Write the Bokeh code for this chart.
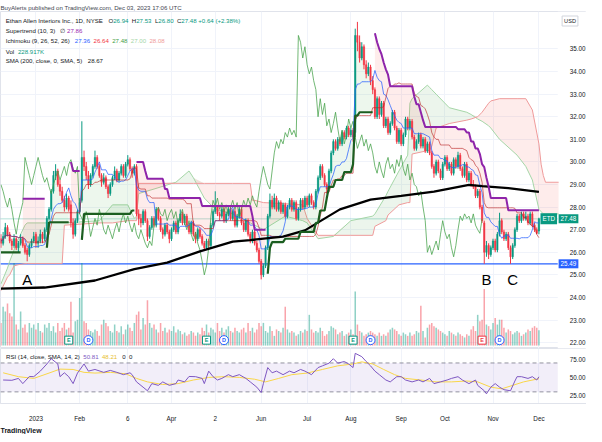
import numpy as np
import pandas as pd
from bokeh.plotting import figure
from bokeh.layouts import column
from bokeh.models import (Range1d, FixedTicker, NumeralTickFormatter, Span, Label,
                          Title, BoxAnnotation)
from bokeh.core.properties import value
from bokeh.embed import file_html
from bokeh.resources import INLINE

FONT = "Liberation Sans"
UP = "#089981"
DOWN = "#F23645"
DARK = "#131722"

# ---------------- data (daily bars, Dec 8 2022 .. Dec 1 2023) ----------------
opens = [
 26.6, 26.4, 26.7, 27.1, 26.8, 26.5, 26.3, 26.6, 26.2, 26.4,
 26.6, 26.3, 26.1, 25.9, 26.3, 26.5, 26.8, 26.4, 26.5, 26.8,
 26.6, 27.0, 27.5, 27.9, 28.7, 29.4, 29.6, 29.0, 28.7, 28.3,
 28.0, 28.4, 28.1, 27.3, 26.8, 27.4, 27.8, 28.3, 30.2, 29.8,
 29.4, 29.0, 29.4, 29.8, 30.2, 29.8, 29.4, 29.1, 29.3, 28.9,
 28.6, 29.0, 29.3, 29.6, 29.2, 29.5, 29.8, 29.4, 29.9, 30.1,
 29.7, 29.5, 29.8, 27.7, 27.5, 27.3, 27.8, 27.4, 26.7, 27.1,
 27.5, 27.2, 27.9, 27.5, 27.0, 26.8, 27.2, 26.9, 26.6, 27.0,
 27.3, 26.9, 27.4, 27.7, 27.3, 27.6, 27.2, 26.9, 27.3, 26.8,
 26.6, 27.0, 26.7, 26.4, 26.2, 26.5, 26.3, 27.2, 27.8, 28.0,
 27.7, 27.6, 27.9, 27.4, 27.7, 27.9, 27.5, 27.8, 27.2, 27.6,
 27.9, 27.3, 27.0, 27.4, 26.8, 26.5, 26.9, 26.4, 26.1, 25.6,
 25.0, 25.4, 26.2, 27.6, 28.3, 28.0, 28.4, 27.9, 28.2, 27.8,
 28.1, 27.6, 28.0, 28.3, 27.9, 28.2, 27.5, 27.9, 28.3, 28.0,
 28.4, 28.1, 28.5, 28.2, 28.0, 28.7, 29.3, 29.8, 29.4, 29.0,
 28.8, 29.6, 30.4, 30.9, 30.6, 31.0, 30.8, 31.3, 31.1, 31.5,
 31.2, 31.4, 31.3, 35.6, 35.3, 34.6, 35.1, 34.3, 33.9, 34.2,
 33.6, 33.2, 32.0, 32.8, 32.1, 32.6, 31.6, 31.9, 31.3, 31.7,
 32.2, 31.5, 30.9, 31.4, 30.8, 31.2, 31.9, 31.5, 31.8, 31.1,
 30.6, 30.9, 31.2, 30.7, 31.0, 30.5, 30.8, 30.4, 29.8, 29.5,
 30.0, 29.6, 29.3, 29.9, 30.2, 29.7, 29.9, 29.5, 30.1, 29.8,
 30.3, 29.7, 29.4, 29.9, 29.2, 29.5, 29.0, 28.9, 28.5, 28.7,
 28.0, 27.3, 26.0, 26.3, 25.9, 26.2, 26.5, 26.1, 26.8, 27.4,
 26.9, 26.6, 26.8, 26.2, 25.8, 26.3, 27.0, 27.6, 27.4, 27.7,
 27.5, 27.6, 27.3, 27.7, 27.2, 27.0, 26.94]
highs = [
 26.8, 26.9, 27.3, 27.2, 26.9, 26.6, 26.8, 26.7, 26.5, 26.8,
 26.7, 26.4, 26.2, 26.4, 26.6, 26.9, 26.9, 26.7, 27.0, 26.9,
 27.1, 27.6, 28.0, 28.8, 29.6, 29.9, 29.7, 29.2, 28.9, 28.5,
 28.6, 28.5, 28.3, 27.5, 27.5, 27.9, 28.4, 31.8, 30.5, 30.0,
 29.6, 29.5, 29.9, 30.5, 30.3, 29.9, 29.5, 29.5, 29.4, 29.0,
 29.1, 29.4, 29.8, 29.7, 29.6, 29.9, 29.9, 30.0, 30.3, 30.2,
 29.8, 29.9, 29.9, 27.9, 27.7, 27.9, 27.9, 27.5, 27.2, 27.6,
 27.6, 28.0, 28.0, 27.6, 27.1, 27.3, 27.3, 27.0, 27.1, 27.4,
 27.4, 27.5, 27.9, 27.8, 27.7, 27.7, 27.3, 27.4, 27.4, 26.9,
 27.1, 27.1, 26.8, 26.5, 26.6, 26.6, 27.3, 27.9, 28.7, 28.1,
 27.8, 28.0, 28.0, 27.8, 28.0, 28.0, 27.9, 27.9, 27.7, 28.0,
 28.0, 27.4, 27.5, 27.5, 26.9, 27.0, 27.0, 26.5, 26.2, 25.7,
 25.5, 26.3, 27.7, 28.6, 28.5, 28.6, 28.5, 28.3, 28.3, 28.2,
 28.2, 28.1, 28.4, 28.4, 28.3, 28.3, 28.0, 28.4, 28.4, 28.5,
 28.5, 28.6, 28.6, 28.3, 28.8, 29.4, 29.9, 29.9, 29.5, 29.1,
 29.7, 30.5, 31.0, 31.0, 31.1, 31.1, 31.4, 31.4, 31.6, 31.6,
 31.5, 31.5, 35.9, 36.2, 35.6, 35.3, 35.2, 34.5, 34.4, 34.3,
 33.8, 33.3, 32.9, 32.9, 32.7, 32.7, 32.0, 32.0, 31.8, 32.3,
 32.3, 31.6, 31.5, 31.5, 31.3, 32.0, 32.0, 31.9, 31.9, 31.2,
 31.0, 31.3, 31.3, 31.1, 31.1, 30.9, 30.9, 30.5, 29.9, 30.1,
 30.1, 29.7, 30.0, 30.3, 30.3, 30.0, 30.0, 30.2, 30.2, 30.45,
 30.4, 29.8, 30.0, 30.0, 29.6, 29.6, 29.2, 29.0, 28.8, 28.8,
 28.1, 27.4, 26.5, 26.4, 26.3, 26.6, 26.6, 26.9, 27.75, 27.5,
 27.0, 26.9, 26.9, 26.3, 26.4, 27.1, 27.7, 27.7, 27.8, 27.8,
 27.8, 27.7, 27.8, 27.8, 27.3, 27.1, 27.53]
lows = [
 26.2, 26.3, 26.6, 26.7, 26.4, 26.1, 26.2, 26.1, 26.0, 26.3,
 26.2, 25.9, 25.6, 25.8, 26.2, 26.4, 26.2, 26.2, 26.4, 26.4,
 26.5, 26.9, 27.4, 27.8, 28.6, 29.2, 28.9, 28.5, 28.2, 27.8,
 27.9, 27.8, 27.1, 26.6, 26.7, 27.3, 27.7, 28.2, 29.6, 29.2,
 28.8, 28.9, 29.3, 29.7, 29.7, 29.3, 28.9, 29.0, 28.8, 28.4,
 28.5, 28.9, 29.2, 29.1, 29.1, 29.4, 29.3, 29.3, 29.8, 29.6,
 29.3, 29.4, 27.6, 27.2, 27.1, 27.2, 27.3, 26.5, 26.6, 27.0,
 27.1, 27.1, 27.4, 26.9, 26.6, 26.7, 26.8, 26.4, 26.5, 26.9,
 26.8, 26.8, 27.3, 27.2, 27.2, 27.1, 26.8, 26.8, 26.7, 26.4,
 26.5, 26.6, 26.3, 26.1, 26.1, 26.1, 26.2, 27.1, 27.7, 27.6,
 27.4, 27.5, 27.3, 27.3, 27.6, 27.4, 27.4, 27.1, 27.1, 27.5,
 27.2, 26.9, 26.9, 26.7, 26.4, 26.4, 26.3, 26.0, 25.5, 24.8,
 24.9, 25.3, 26.1, 27.5, 27.9, 27.9, 27.8, 27.8, 27.7, 27.7,
 27.5, 27.5, 27.9, 27.8, 27.8, 27.4, 27.4, 27.8, 27.9, 27.9,
 28.0, 28.0, 28.1, 27.9, 27.9, 28.6, 29.2, 29.3, 28.9, 28.6,
 28.7, 29.5, 30.3, 30.5, 30.5, 30.7, 30.7, 31.0, 31.0, 31.1,
 31.1, 30.9, 31.1, 34.9, 34.4, 34.5, 34.1, 33.7, 33.8, 33.4,
 33.0, 31.9, 31.9, 31.9, 32.0, 31.5, 31.5, 31.2, 31.2, 31.6,
 31.4, 30.8, 30.8, 30.7, 30.7, 31.1, 31.4, 31.4, 31.0, 30.5,
 30.5, 30.8, 30.6, 30.6, 30.4, 30.4, 30.3, 29.7, 29.3, 29.4,
 29.5, 29.2, 29.2, 29.8, 29.6, 29.6, 29.4, 29.4, 29.7, 29.7,
 29.6, 29.3, 29.3, 29.1, 29.1, 28.9, 28.8, 28.4, 28.4, 27.9,
 27.3, 25.49, 25.8, 25.7, 25.8, 26.1, 26.0, 26.0, 26.7, 26.8,
 26.5, 26.5, 26.1, 25.49, 25.7, 26.2, 26.9, 27.3, 27.3, 27.4,
 27.4, 27.2, 27.2, 27.1, 26.9, 26.8, 26.80]
closes = [
 26.4, 26.7, 27.1, 26.8, 26.5, 26.3, 26.6, 26.2, 26.4, 26.6,
 26.3, 26.0, 25.9, 26.3, 26.5, 26.7, 26.4, 26.5, 26.8, 26.6,
 27.0, 27.5, 27.9, 28.7, 29.4, 29.6, 29.0, 28.7, 28.3, 28.0,
 28.4, 27.9, 27.3, 26.8, 27.4, 27.8, 28.2, 30.2, 29.8, 29.4,
 29.0, 29.4, 29.8, 30.2, 29.8, 29.4, 29.1, 29.3, 28.9, 28.6,
 29.0, 29.3, 29.6, 29.2, 29.5, 29.8, 29.4, 29.9, 30.1, 29.7,
 29.5, 29.8, 27.7, 27.5, 27.3, 27.8, 27.4, 26.7, 27.1, 27.5,
 27.2, 27.9, 27.5, 27.0, 26.8, 27.2, 26.9, 26.6, 27.0, 27.3,
 26.9, 27.4, 27.7, 27.3, 27.6, 27.2, 26.9, 27.3, 26.8, 26.6,
 27.0, 26.7, 26.4, 26.2, 26.5, 26.3, 27.2, 27.8, 28.0, 27.7,
 27.6, 27.9, 27.4, 27.7, 27.9, 27.5, 27.8, 27.2, 27.6, 27.9,
 27.3, 27.0, 27.4, 26.8, 26.5, 26.9, 26.4, 26.1, 25.6, 25.0,
 25.4, 26.2, 27.6, 28.3, 28.0, 28.4, 27.9, 28.2, 27.8, 28.1,
 27.6, 28.0, 28.3, 27.9, 28.2, 27.5, 27.9, 28.3, 28.0, 28.4,
 28.1, 28.5, 28.2, 28.0, 28.7, 29.3, 29.8, 29.4, 29.0, 28.8,
 29.6, 30.4, 30.9, 30.6, 31.0, 30.8, 31.3, 31.1, 31.5, 31.2,
 31.4, 31.1, 35.6, 35.3, 34.6, 35.1, 34.3, 33.9, 34.2, 33.6,
 33.2, 32.0, 32.8, 32.1, 32.6, 31.6, 31.9, 31.3, 31.7, 32.2,
 31.5, 30.9, 31.4, 30.8, 31.2, 31.9, 31.5, 31.8, 31.1, 30.6,
 30.9, 31.2, 30.7, 31.0, 30.5, 30.8, 30.4, 29.8, 29.5, 30.0,
 29.6, 29.3, 29.9, 30.2, 29.7, 29.9, 29.5, 30.1, 29.8, 30.3,
 29.7, 29.4, 29.9, 29.2, 29.5, 29.0, 28.9, 28.5, 28.7, 28.0,
 27.4, 26.0, 26.3, 25.9, 26.2, 26.5, 26.1, 26.8, 27.4, 26.9,
 26.6, 26.8, 26.2, 25.8, 26.3, 27.0, 27.6, 27.4, 27.7, 27.5,
 27.6, 27.3, 27.7, 27.2, 27.0, 26.84, 27.48]
volume_k = [
 341, 584, 511, 633, 487, 438, 1240, 316, 243, 511,
 268, 316, 195, 341, 268, 316, 243, 341, 219, 195,
 316, 268, 341, 219, 292, 195, 341, 219, 268, 341,
 243, 268, 657, 195, 365, 389, 715, 1240, 365, 341,
 243, 219, 195, 243, 219, 146, 316, 389, 341, 292,
 219, 195, 316, 219, 195, 292, 170, 243, 316, 268,
 219, 341, 462, 511, 243, 414, 316, 681, 341, 268,
 316, 243, 195, 341, 219, 268, 195, 243, 219, 292,
 195, 243, 219, 170, 195, 146, 170, 219, 195, 146,
 195, 170, 268, 219, 316, 195, 268, 243, 195, 341,
 219, 268, 195, 243, 292, 219, 195, 268, 219, 195,
 243, 268, 195, 341, 219, 268, 195, 243, 341, 292,
 341, 219, 195, 292, 219, 146, 243, 219, 195, 268,
 584, 243, 195, 219, 195, 146, 170, 219, 195, 243,
 219, 462, 243, 195, 219, 195, 268, 219, 146, 170,
 219, 292, 268, 243, 170, 195, 219, 146, 170, 195,
 243, 170, 813, 316, 219, 195, 146, 170, 195, 219,
 195, 170, 146, 195, 146, 170, 146, 195, 243, 268,
 243, 219, 170, 146, 195, 170, 146, 195, 146, 170,
 219, 195, 600, 219, 122, 268, 316, 341, 292, 268,
 243, 219, 195, 170, 146, 219, 195, 170, 146, 195,
 170, 146, 122, 170, 146, 243, 292, 219, 462, 365,
 389, 850, 316, 292, 243, 341, 414, 316, 389, 389,
 268, 195, 243, 219, 170, 195, 219, 195, 146, 170,
 195, 243, 219, 268, 292, 268, 229]

# Ichimoku leading spans (already displaced 26 bars)
cloud_idx = [0, 3, 4, 6, 8, 11, 12, 28, 29, 45, 51, 58, 61, 62, 63, 70, 80, 86, 88, 93,
             98, 106, 114, 115, 116, 120, 130, 138, 140, 145, 152, 160, 170, 171, 176, 177, 182, 186, 187, 188,
             195, 196, 197, 199, 205, 213, 215, 218, 220, 223, 224, 228, 236, 240, 243, 246, 247, 248, 249, 255]
span_a = [24.6, 25.3, 25.6, 26.1, 26.6, 27.2, 27.3, 27.3, 27.3, 27.4,
          28.1, 28.1, 27.5, 27.6, 28.6, 28.8, 29.1, 29.6, 29.3, 28.4,
          27.9, 27.7, 27.3, 27.25, 27.2, 27.0, 27.6, 27.4, 27.3, 26.6,
          26.7, 27.4, 27.6, 27.7, 28.5, 28.7, 29.6, 30.3, 32.6, 32.8,
          33.4, 33.3, 33.2, 33.0, 32.4, 32.2, 32.1, 31.9, 31.8, 31.6,
          31.5, 31.0, 30.3, 29.8, 29.2, 27.9, 27.8, 27.7, 27.7, 27.7]
span_b = [24.3, 24.9, 25.0, 25.4, 25.45, 25.5, 25.5, 25.5, 27.2, 27.3,
          27.3, 27.4, 27.4, 27.4, 29.05, 29.05, 29.05, 29.05, 29.05, 29.05,
          29.05, 29.05, 29.05, 28.3, 28.3, 28.2, 28.15, 28.1, 27.5, 26.75,
          26.75, 26.75, 26.75, 27.15, 27.4, 27.65, 28.1, 28.2, 28.2, 30.35,
          30.5, 30.5, 30.7, 31.5, 31.7, 31.85, 31.9, 32.0, 32.2, 32.6,
          32.7, 32.8, 32.8, 32.8, 32.3, 30.8, 29.9, 29.4, 29.1, 29.1]

# Supertrend (10, 3): runs of constant value; +1 = up trend, -1 = down trend
st_start = [0, 10, 21, 22, 32, 33, 37, 38, 60, 62, 66, 67, 75, 77, 92, 115, 116, 122, 123, 124,
            130, 137, 144, 146, 149, 150, 153, 157, 161, 162, 164, 171, 172, 173, 174, 175, 176, 177, 178, 189,
            190, 192, 193, 194, 209, 213, 215, 217, 219, 220, 221, 222, 223, 224, 232]
st_value = [26.0, 28.37, 26.2, 27.33, 30.0, 29.6, 26.55, 27.7, 27.85, 30.0,
            29.6, 29.25, 28.8, 28.4, 28.05, 27.6, 27.0, 25.05, 26.2, 26.45,
            26.6, 26.9, 27.3, 27.85, 28.4, 28.9, 29.2, 29.55, 29.9, 32.05,
            32.2, 35.7, 35.3, 35.0, 34.77, 34.4, 34.1, 33.86, 33.35, 32.9,
            32.55, 32.2, 31.85, 31.55, 31.45, 31.3, 30.9, 30.6, 30.35, 29.9,
            29.77, 29.3, 28.9, 28.4, 27.86]
st_dir = [1, -1, 1, 1, -1, -1, 1, 1, 1, -1,
          -1, -1, -1, -1, -1, -1, -1, 1, 1, 1,
          1, 1, 1, 1, 1, 1, 1, 1, 1, 1,
          1, -1, -1, -1, -1, -1, -1, -1, -1, -1,
          -1, -1, -1, -1, -1, -1, -1, -1, -1, -1,
          -1, -1, -1, -1, -1]

# SMA 200
sma_idx = [0, 20, 43, 61, 76, 91, 106, 114, 129, 139, 155, 169, 183, 198, 214, 220, 232, 246]
sma_val = [24.39, 24.44, 24.75, 25.25, 25.54, 26.04, 26.47, 26.54, 26.69, 26.97,
           27.9, 28.33, 28.5, 28.69, 28.98, 28.93, 28.84, 28.67]

# RSI (14) and its SMA (14)
rsi_idx = [1, 5, 8, 10, 13, 15, 18, 21, 23, 26, 27, 29, 31, 33, 35, 38, 40, 43, 47, 50,
           53, 56, 59, 60, 62, 65, 67, 69, 72, 74, 77, 80, 81, 84, 86, 89, 92, 93, 95, 97,
           99, 101, 104, 106, 109, 112, 114, 117, 119, 120, 122, 124, 126, 129, 132, 134, 137, 139, 142, 145,
           147, 150, 152, 154, 157, 159, 161, 162, 165, 167, 169, 171, 173, 176, 178, 181, 183, 185, 188, 191,
           193, 196, 198, 201, 204, 206, 209, 211, 214, 217, 218, 221, 222, 224, 226, 228, 230, 233, 235, 236,
           238, 241, 243, 245, 246]
rsi_val = [46.4, 46.0, 48.6, 41.4, 51.3, 51.0, 58.7, 68.6, 75.9, 68.6,
           51.0, 56.4, 51.0, 41.4, 56.0, 68.6, 58.7, 61.0, 57.0, 59.7,
           57.0, 53.8, 56.4, 53.8, 43.8, 36.5, 31.5, 41.4, 39.0, 43.8,
           39.0, 41.4, 46.4, 43.8, 51.3, 51.0, 48.6, 41.4, 58.7, 51.0,
           46.4, 48.6, 53.8, 51.0, 53.8, 48.6, 43.8, 36.5, 29.1, 41.4,
           63.6, 56.4, 58.7, 53.8, 58.7, 56.4, 61.0, 58.7, 53.8, 63.6,
           66.0, 69.7, 75.9, 69.7, 72.0, 68.6, 63.6, 83.3, 78.7, 72.0,
           66.0, 58.7, 53.8, 46.4, 43.8, 51.0, 51.0, 46.4, 43.8, 46.4,
           43.8, 48.6, 41.4, 43.8, 46.4, 48.6, 51.0, 46.4, 41.4, 46.4,
           39.0, 31.5, 27.3, 36.5, 41.4, 36.5, 33.0, 31.5, 45.0, 51.0,
           51.0, 48.6, 51.0, 46.4, 50.81]
rsi_ma_idx = [1, 8, 15, 22, 27, 33, 38, 43, 50, 57, 62, 67, 74, 81, 88, 95, 102, 109, 116, 121,
              127, 133, 140, 147, 154, 161, 165, 170, 175, 180, 185, 192, 199, 206, 213, 218, 224, 229, 234, 239, 246]
rsi_ma_val = [56.4, 51.0, 48.6, 56.0, 61.5, 61.0, 57.0, 56.0, 57.0, 55.0,
              48.6, 43.8, 40.2, 41.4, 46.4, 50.0, 51.0, 50.0, 47.5, 43.8,
              48.6, 53.8, 56.0, 61.0, 66.0, 68.6, 71.5, 68.6, 61.0, 53.8,
              48.6, 46.4, 43.8, 43.8, 45.0, 43.8, 36.5, 34.2, 39.0, 43.8, 48.21]

# Events (earnings / dividends) by bar index
earn_idx = [31, 94, 161, 220]
earn_up = [True, True, True, False]
div_idx = [40, 102, 169, 228]

# Annotations
level_price = 25.49
note_text = ["A", "B", "C"]
note_idx = [12, 222, 234]
note_price = [24.79, 24.79, 24.79]

tick_idx = [16, 36, 58, 78, 98, 119, 140, 160, 183, 203, 225, 246]
tick_labels = ["2023", "Feb", "6", "Apr", "2", "Jun", "Jul", "Aug", "Sep", "Oct", "Nov", "Dec"]
price_ticks = list(range(22, 36))
rsi_ticks = [25, 50, 75]

# ---------------- checks ----------------
N = len(closes)
for arr in (opens, highs, lows, volume_k):
    assert len(arr) == N, len(arr)
assert len(span_a) == len(cloud_idx) == len(span_b)
assert len(st_start) == len(st_value) == len(st_dir)
assert len(rsi_idx) == len(rsi_val)
assert len(rsi_ma_idx) == len(rsi_ma_val)

idx = np.arange(N)
o = np.array(opens); h = np.array(highs); l = np.array(lows); c = np.array(closes)
vol = np.array(volume_k)
is_up = c >= o
bar_col = np.where(is_up, UP, DOWN).tolist()

# indicators from the bars
hs, ls = pd.Series(h), pd.Series(l)
tenkan = ((hs.rolling(9, min_periods=1).max() + ls.rolling(9, min_periods=1).min()) / 2).values
kijun = ((hs.rolling(26, min_periods=1).max() + ls.rolling(26, min_periods=1).min()) / 2).values

lengths = np.diff(np.append(st_start, N))
st = np.repeat(st_value, lengths)
sd = np.repeat(st_dir, lengths)
body_mid = (o + c) / 2

# ---------------- layout constants ----------------
W = 586
X_LO, X_HI = -0.2, 267.75      # bar-index range covering plot + price scale
AXIS_X = 254.6                 # where the price scale starts
PRICE_FRAME_H = 337
RSI_FRAME_H = 55
FS = 6.1                       # legend font size in px

AW = {' ': 278, '!': 278, '%': 889, '(': 333, ')': 333, '+': 584, ',': 278, '-': 333, '.': 278,
      ':': 278, 'A': 667, 'B': 667, 'C': 722, 'D': 722, 'E': 667, 'F': 611, 'G': 778, 'H': 722,
      'I': 278, 'J': 500, 'K': 667, 'L': 556, 'M': 833, 'N': 722, 'O': 778, 'P': 667, 'Q': 778,
      'R': 722, 'S': 667, 'T': 611, 'U': 722, 'V': 667, 'W': 944, 'X': 667, 'Y': 667, 'Z': 611,
      'a': 556, 'b': 556, 'c': 500, 'd': 556, 'e': 556, 'f': 278, 'g': 556, 'h': 556, 'i': 222,
      'j': 222, 'k': 500, 'l': 222, 'm': 833, 'n': 556, 'o': 556, 'p': 556, 'q': 556, 'r': 333,
      's': 500, 't': 278, 'u': 556, 'v': 500, 'w': 722, 'x': 500, 'y': 500, 'z': 500}


def tw(s, size=FS):
    return sum(AW.get(ch, 556) for ch in s) / 1000.0 * size


def put(fig, x, y, text, color, size=FS, style="normal", x_units="screen", y_units="screen", **kw):
    fig.add_layout(Label(x=x, y=y, x_units=x_units, y_units=y_units, text=text,
                         text_color=color, text_font=FONT, text_font_size=f"{size}px",
                         text_font_style=style, text_baseline="middle", **kw))


def put_row(fig, x0, y, chunks):
    x = x0
    for txt, col in chunks:
        put(fig, x, y, txt, col)
        x += tw(txt)


def style_y_axis(axis, ticks):
    axis.ticker = FixedTicker(ticks=ticks)
    axis.formatter = NumeralTickFormatter(format="0.00")
    axis.fixed_location = AXIS_X
    axis.major_label_text_font = FONT
    axis.major_label_text_font_size = "6.3px"
    axis.major_label_text_color = DARK
    axis.major_tick_line_color = None
    axis.minor_tick_line_color = None
    axis.axis_line_color = None
    axis.major_label_standoff = 6


xr = Range1d(X_LO, X_HI)
price_lo, price_hi = 21.74, 36.66

# ---------------- price pane ----------------
p = figure(frame_width=W, frame_height=PRICE_FRAME_H, x_range=xr, y_range=Range1d(price_lo, price_hi),
           x_axis_location=None, y_axis_location="right", output_backend="svg",
           toolbar_location=None, min_border_left=0, min_border_right=0,
           min_border_top=0, min_border_bottom=0, outline_line_color="#E0E3EB",
           background_fill_color="white", border_fill_color="white")
p.title.text = "BuyAlerts published on TradingView.com, Dec 03, 2023 17:06 UTC"
p.title.text_font = FONT
p.title.text_font_size = "6.1px"
p.title.text_font_style = "normal"
p.title.text_color = "#434651"
p.title.standoff = 2

p.extra_y_ranges = {"vol": Range1d(-44, 5022)}

p.xgrid.ticker = FixedTicker(ticks=tick_idx)
p.ygrid.ticker = FixedTicker(ticks=price_ticks)
p.xgrid.grid_line_color = "#F0F3FA"
p.ygrid.grid_line_color = "#F0F3FA"
style_y_axis(p.yaxis[0], price_ticks)

# horizontal level + last price line (under the bars)
p.add_layout(Span(location=level_price, dimension="width", line_color="#2962FF", line_width=1.3,
                  level="underlay"))
p.add_layout(Span(location=closes[-1], dimension="width", line_color=UP, line_width=1,
                  line_dash="1 1", line_alpha=0.6, level="underlay"))
# blank price-scale strip
p.add_layout(BoxAnnotation(left=AXIS_X, fill_color="white", fill_alpha=1.0, line_color=None,
                           level="underlay"))

# volume
p.vbar(x=idx, top=vol, bottom=0, width=0.7, fill_color=bar_col, line_color=None,
       fill_alpha=0.45, y_range_name="vol")

# ichimoku cloud
ca = np.array(span_a); cb = np.array(span_b); cmax = np.maximum(ca, cb)
p.varea(x=cloud_idx, y1=cb, y2=cmax, fill_color="#43A047", fill_alpha=0.1)
p.varea(x=cloud_idx, y1=ca, y2=cmax, fill_color="#F44336", fill_alpha=0.1)
p.line(cloud_idx, ca, line_color="#A5D6A7", line_width=1)
p.line(cloud_idx, cb, line_color="#EF9A9A", line_width=1)

# supertrend fills
breaks = np.flatnonzero(np.diff(sd)) + 1
segments = np.split(idx, breaks)
for seg in segments:
    d = sd[seg[0]]
    p.varea(x=seg, y1=st[seg], y2=body_mid[seg],
            fill_color="#4CAF50" if d > 0 else "#F44336", fill_alpha=0.1)

# candles
p.segment(x0=idx, y0=h, x1=idx, y1=l, line_color=bar_col, line_width=1)
p.vbar(x=idx, width=0.62, top=o, bottom=c, fill_color=bar_col, line_color=bar_col, line_width=0.5)

# ichimoku lines
p.line(idx[26:] - 26, c[26:], line_color="#43A047", line_width=1, line_alpha=0.75)
p.line(idx, tenkan, line_color="#2962FF", line_width=1, line_alpha=0.75)
p.line(idx, kijun, line_color="#B71C1C", line_width=1, line_alpha=0.6)

# SMA 200
p.line(sma_idx, sma_val, line_color="black", line_width=2.3)

# supertrend lines
for seg in segments:
    d = sd[seg[0]]
    p.line(seg, st[seg], line_color="#1B5E20" if d > 0 else "#8E24AA",
           line_width=2.2 if d > 0 else 2.0)

# A / B / C notes
p.text(x=note_idx, y=note_price, text=note_text, text_font=value(FONT), text_font_size="15px",
       text_color="black", text_align="center", text_baseline="middle")

# earnings / dividend badges
badge_y = price_lo + 0.37
ecol = [UP if u else DOWN for u in earn_up]
p.scatter(x=earn_idx, y=[badge_y] * len(earn_idx), marker="square", size=8,
          fill_color="white", line_color=ecol, line_width=1)
p.text(x=earn_idx, y=[badge_y] * len(earn_idx), text=["E"] * len(earn_idx), text_color=ecol,
       text_font=value(FONT), text_font_size="5.5px", text_font_style="bold",
       text_align="center", text_baseline="middle")
p.scatter(x=div_idx, y=[badge_y] * len(div_idx), marker="circle", size=9,
          fill_color="white", line_color="#2962FF", line_width=1)
p.text(x=div_idx, y=[badge_y] * len(div_idx), text=["D"] * len(div_idx), text_color="#2962FF",
       text_font=value(FONT), text_font_size="5.5px", text_font_style="bold",
       text_align="center", text_baseline="middle")

# legend rows (screen units from the frame's bottom-left)
top = PRICE_FRAME_H
put_row(p, 5.2, top - 8.8, [("Ethan Allen Interiors Inc., 1D, NYSE   ", DARK), ("O", DARK), ("26.94  ", UP),
                            ("H", DARK), ("27.53  ", UP), ("L", DARK), ("26.80  ", UP), ("C", DARK),
                            ("27.48  +0.64 (+2.38%)", UP)])
put_row(p, 5.2, top - 19.0, [("Supertrend (10, 3)   ", DARK), ("\u2205  ", DARK), ("27.86", "#9C27B0")])
put_row(p, 5.2, top - 29.2, [("Ichimoku (9, 26, 52, 26)   ", DARK), ("27.36  ", "#2962FF"),
                             ("26.64  ", "#F23645"), ("27.48  ", "#43A047"), ("27.00  ", "#A5D6A7"),
                             ("28.08", "#EF9A9A")])
put_row(p, 5.2, top - 39.6, [("Vol  ", DARK), ("228.917K", UP)])
put_row(p, 5.2, top - 49.4, [("SMA (200, close, 0, SMA, 5)   ", DARK), ("28.67", DARK)])

# price-scale tags
put(p, AXIS_X + 0.4, closes[-1], "27.48", "white", size=6.3, x_units="data", y_units="data",
    background_fill_color=UP, padding=2)
put(p, AXIS_X - 0.3, closes[-1], "ETD", "white", size=6.3, x_units="data", y_units="data",
    background_fill_color=UP, padding=2, text_align="right")
put(p, AXIS_X + 0.4, level_price, "25.49", "white", size=6.3, x_units="data", y_units="data",
    background_fill_color="#2962FF", padding=2)
put(p, AXIS_X + 2.0, top - 9.5, "USD", DARK, size=5.6, x_units="data",
    background_fill_color="white", border_line_color="#D1D4DC", padding=2)

# ---------------- RSI pane ----------------
r = figure(frame_width=W, frame_height=RSI_FRAME_H, x_range=xr, y_range=Range1d(13.9, 90.0),
           y_axis_location="right", output_backend="svg", toolbar_location=None,
           min_border_left=0, min_border_right=0, min_border_top=0, min_border_bottom=0,
           outline_line_color="#E0E3EB", background_fill_color="white", border_fill_color="white")
r.xgrid.ticker = FixedTicker(ticks=tick_idx)
r.xgrid.grid_line_color = "#F0F3FA"
r.ygrid.grid_line_color = None
style_y_axis(r.yaxis[0], rsi_ticks)

rx = r.xaxis[0]
rx.ticker = FixedTicker(ticks=tick_idx)
rx.major_label_overrides = {t: s for t, s in zip(tick_idx, tick_labels)}
rx.major_label_text_font = FONT
rx.major_label_text_font_size = "6.3px"
rx.major_label_text_color = DARK
rx.major_tick_line_color = None
rx.minor_tick_line_color = None
rx.axis_line_color = "#E0E3EB"
rx.major_label_standoff = 5

for lvl in (70, 30):
    r.add_layout(Span(location=lvl, dimension="width", line_color="#787B86", line_width=1,
                      line_dash="4 3", line_alpha=0.8, level="underlay"))
r.add_layout(BoxAnnotation(left=AXIS_X, fill_color="white", fill_alpha=1.0, line_color=None,
                           level="underlay"))
r.add_layout(BoxAnnotation(bottom=30, top=70, right=AXIS_X, fill_color="#7E57C2", fill_alpha=0.1,
                           line_color=None, level="underlay"))
r.line(rsi_ma_idx, rsi_ma_val, line_color="#F9D648", line_width=1)
r.line(rsi_idx, rsi_val, line_color="#7E57C2", line_width=1)

put_row(r, 5.5, RSI_FRAME_H - 8.2, [("RSI (14, close, SMA, 14, 2)  ", DARK), ("50.81  ", "#7E57C2"),
                                    ("48.21   ", "#E8C02E"), ("0  ", DARK), ("0", DARK)])

r.add_layout(Title(text="TradingView", align="left", text_font=FONT, text_font_size="7px",
                   text_font_style="bold", text_color=DARK, standoff=1), "below")

layout = column(p, r, spacing=0)
open("out.html", "w").write(file_html(layout, INLINE))
